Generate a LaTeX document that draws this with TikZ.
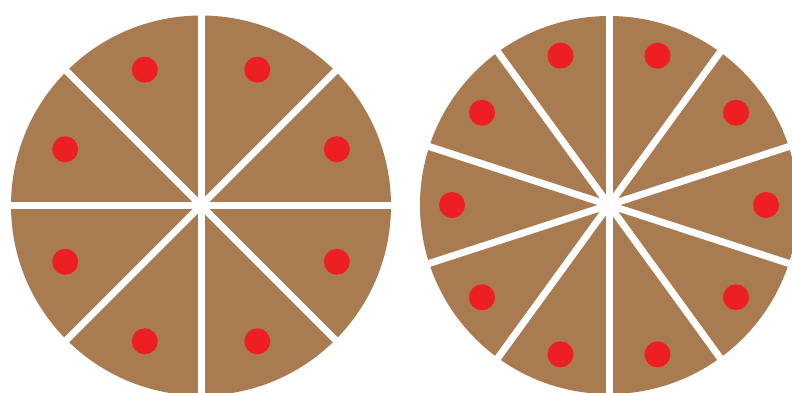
\documentclass[tikz,border=0pt]{standalone}
\usetikzlibrary{calc}
\definecolor{crust}{RGB}{168,123,80}
\definecolor{topping}{RGB}{237,30,36}
\begin{document}
\begin{tikzpicture}[x=1pt,y=-1pt,
  cut/.style={white,line width=7pt},
  dot/.style={fill=topping}]
\useasboundingbox (0,0) rectangle (792,392);
\begin{scope}
\clip (0,0) rectangle (792,392);
% left pizza, 8 slices
\coordinate (L) at (201,205.5);
\fill[crust] (L) circle[radius=190];
\foreach \a in {0,45,90,135}
  \draw[cut] ($(L)+(\a:-195)$) -- ($(L)+(\a:195)$);
\foreach \a in {22.5,67.5,...,337.5}
  \fill[dot] ($(L)+(-\a:147)$) circle[radius=13];
% right pizza, 10 slices
\coordinate (R) at (609,205);
\fill[crust] (R) circle[radius=189];
\foreach \a in {18,54,90,126,162}
  \draw[cut] ($(R)+(\a:-195)$) -- ($(R)+(\a:195)$);
\foreach \a in {0,36,...,324}
  \fill[dot] ($(R)+(-\a:157)$) circle[radius=13];
\end{scope}
\end{tikzpicture}
\end{document}
